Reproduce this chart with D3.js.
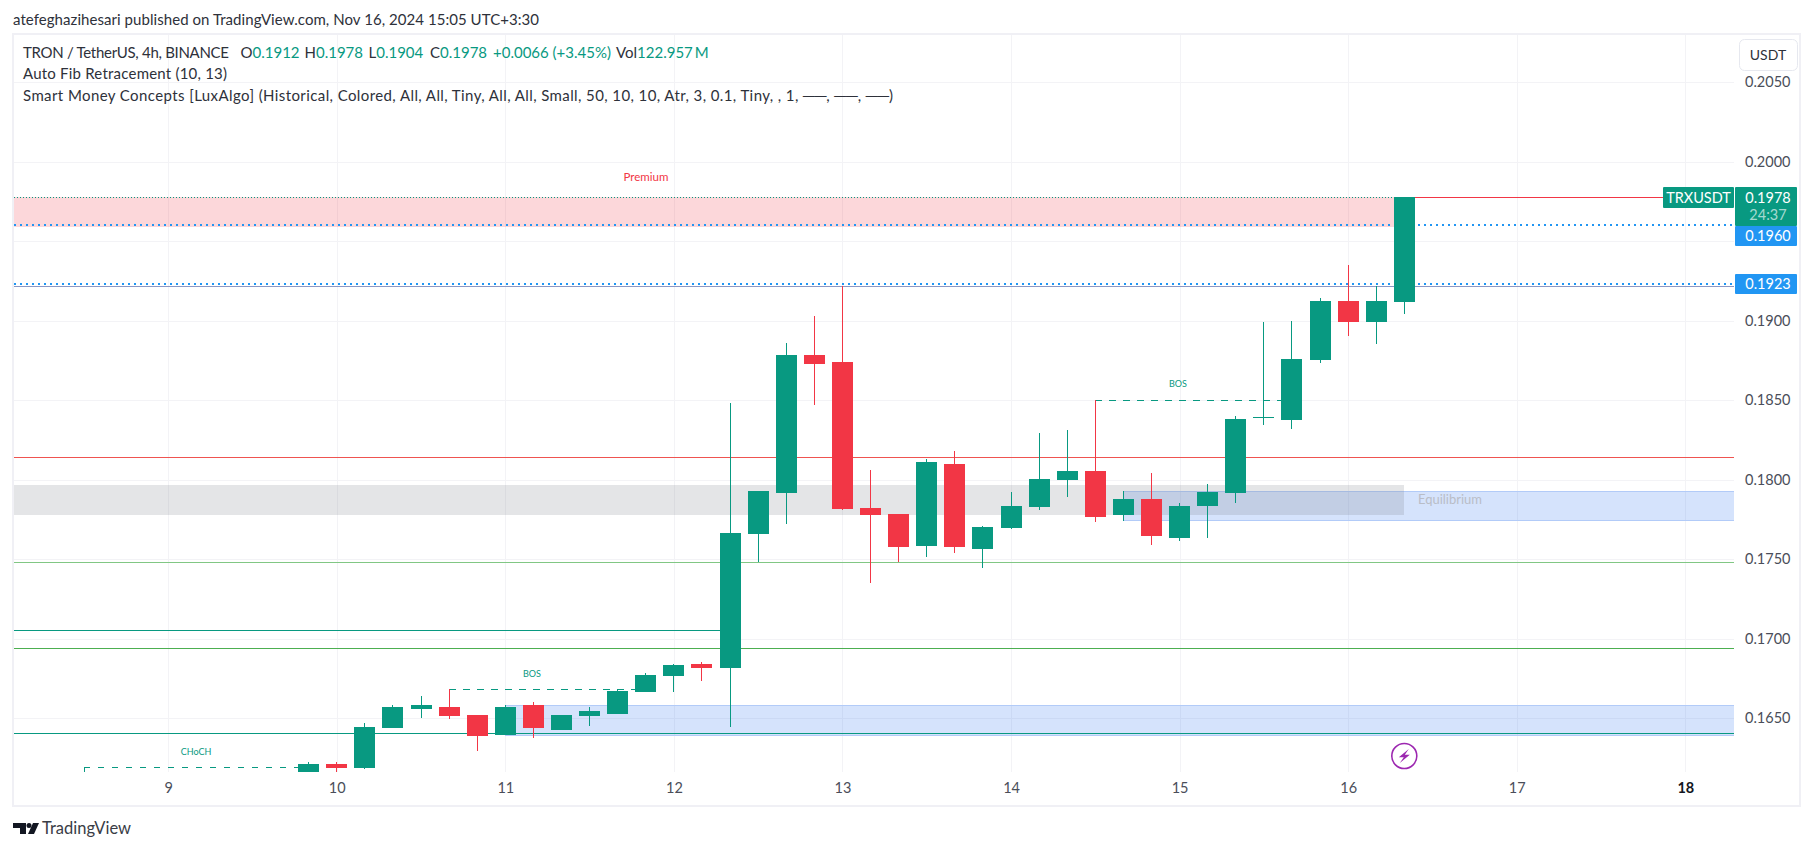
<!DOCTYPE html>
<html lang="en">
<head>
  <meta charset="utf-8" />
  <title>TRXUSDT 4h</title>
  <style>
    html, body { margin: 0; padding: 0; background: #fff; overflow: hidden; }
    svg { display: block; font-family: Lato, sans-serif; }
    .axis text { font-size: 14.5px; fill: #4a4e59; font-family: Lato, sans-serif; }
    .axis path, .axis line { display: none; }
    .legend { font-size: 15px; fill: #2e313a; }
    .up { fill: #089981; }
  </style>
</head>
<body>
  <svg id="chart" width="1814" height="851"></svg>

  <script src="https://d3js.org/d3.v7.min.js"></script>
  <script>
    // 4h candles, first one is at day 9 + 5/6
    const firstCandle = 9 + 5 / 6;
    const opens = [0.16162, 0.16213, 0.16188, 0.16439, 0.16559, 0.16571, 0.16521, 0.16395, 0.16584, 0.16427,
      0.16515, 0.16527, 0.16666, 0.16766, 0.16842, 0.16817, 0.17659, 0.17917, 0.18785, 0.18741,
      0.17823, 0.17785, 0.17584, 0.18100, 0.17565, 0.17697, 0.17829, 0.17999, 0.18056, 0.17779,
      0.17879, 0.17634, 0.17835, 0.17917, 0.18390, 0.18376, 0.18754, 0.19125, 0.18993, 0.1912];
    const highs = [0.16225, 0.16225, 0.16471, 0.16584, 0.16640, 0.16684, 0.16521, 0.16584, 0.16603, 0.16521,
      0.16571, 0.16678, 0.16785, 0.16842, 0.16854, 0.18483, 0.17930, 0.18861, 0.19030, 0.19219,
      0.18062, 0.17785, 0.18131, 0.18181, 0.17710, 0.17923, 0.18295, 0.18313, 0.18500, 0.17930,
      0.18043, 0.17854, 0.17974, 0.18401, 0.18993, 0.18999, 0.19144, 0.19351, 0.19219, 0.1978];
    const lows = [0.16150, 0.16160, 0.16181, 0.16439, 0.16502, 0.16496, 0.16295, 0.16395, 0.16376, 0.16427,
      0.16452, 0.16527, 0.16666, 0.16666, 0.16735, 0.16445, 0.17483, 0.17722, 0.18471, 0.17810,
      0.17351, 0.17483, 0.17515, 0.17540, 0.17446, 0.17691, 0.17810, 0.17892, 0.17735, 0.17741,
      0.17590, 0.17615, 0.17634, 0.17854, 0.18345, 0.18320, 0.18735, 0.18905, 0.18854, 0.1904];
    const closes = [0.16213, 0.16188, 0.16445, 0.16571, 0.16584, 0.16515, 0.16389, 0.16571, 0.16439, 0.16521,
      0.16546, 0.16672, 0.16773, 0.16835, 0.16817, 0.17666, 0.17930, 0.18785, 0.18729, 0.17817,
      0.17779, 0.17578, 0.18112, 0.17578, 0.17703, 0.17835, 0.18005, 0.18056, 0.17766, 0.17879,
      0.17647, 0.17835, 0.17923, 0.18383, 0.18395, 0.18760, 0.19125, 0.18993, 0.19125, 0.1978];

    const dayTicks = [9, 10, 11, 12, 13, 14, 15, 16, 17, 18];
    const priceTicks = [0.165, 0.17, 0.175, 0.18, 0.185, 0.19, 0.195, 0.2, 0.205];

    // zones: price bottom, price top, start day, end day (null = pane edge)
    const zoneBottoms = [0.19592, 0.17779, 0.17745, 0.16395];
    const zoneTops = [0.1978, 0.17967, 0.1793, 0.16584];
    const zoneStarts = [null, null, 14.667, 11];
    const zoneEnds = [16.333, 16.333, null, null];
    const zoneKinds = ["premium", "equil", "block", "block"];

    // solid levels
    const levelPrices = [0.19217, 0.18142, 0.17481, 0.17053, 0.1694, 0.16406];
    const levelEnds = [null, null, null, 12.333, null, null];
    const levelColors = ["#8a97c4", "#ef5350", "#81c784", "#089981", "#4caf50", "#089981"];

    const dottedPrices = [0.196, 0.1923];
    const structNames = ["CHoCH", "BOS", "BOS"];
    const structPrices = [0.16195, 0.16684, 0.185];
    const structStarts = [8.5, 10.667, 14.5];
    const structEnds = [9.77, 11.77, 15.6];

    const lastPrice = 0.1978;
    const symbol = "TRXUSDT";
    const countdown = "24:37";

    const pane = { left: 14, right: 1734, top: 35, bottom: 772 };
    const green = "#089981", red = "#f23645", grid = "#f3f3f6";

    const svg = d3.select("#chart");
    const x = d3.scaleLinear().domain([9, 18]).range([168.2, 1685.3]);
    const y = d3.scaleLinear().domain([0.165, 0.205]).range([718.3, 82.3]);
    const px = v => Math.round(v);

    // frame
    svg.append("rect")
      .attr("x", 13).attr("y", 34).attr("width", 1787).attr("height", 772)
      .attr("fill", "none").attr("stroke", "#f0f0f5").attr("stroke-width", 2);

    svg.append("defs").append("clipPath").attr("id", "pane-clip").append("rect")
      .attr("x", pane.left).attr("y", pane.top)
      .attr("width", pane.right - pane.left).attr("height", pane.bottom - pane.top);

    const plot = svg.append("g").attr("clip-path", "url(#pane-clip)").attr("shape-rendering", "crispEdges");

    // grid
    plot.selectAll(".vgrid").data(dayTicks).join("rect")
      .attr("x", d => px(x(d))).attr("y", pane.top).attr("width", 1).attr("height", pane.bottom - pane.top)
      .attr("fill", grid);
    plot.selectAll(".hgrid").data(priceTicks).join("rect")
      .attr("x", pane.left).attr("y", d => px(y(d))).attr("width", pane.right - pane.left).attr("height", 1)
      .attr("fill", grid);

    // zones
    const zoneFill = { premium: "rgba(242,54,69,0.2)", equil: "rgba(120,123,134,0.2)", block: "rgba(45,115,240,0.2)" };
    const zones = zoneKinds.map((k, i) => ({ k, i })).sort((a, b) => (a.k === "block" ? 0 : 1) - (b.k === "block" ? 0 : 1));
    zones.forEach(({ k, i }) => {
      const x0 = zoneStarts[i] === null ? pane.left : x(zoneStarts[i]);
      const x1 = zoneEnds[i] === null ? pane.right : x(zoneEnds[i]);
      plot.append("rect")
        .attr("x", px(x0)).attr("y", px(y(zoneTops[i])))
        .attr("width", px(x1) - px(x0)).attr("height", px(y(zoneBottoms[i])) - px(y(zoneTops[i])))
        .attr("fill", zoneFill[k]);
      if (k === "block") {
        [zoneTops[i], zoneBottoms[i]].forEach(p => {
          plot.append("rect")
            .attr("x", px(x0)).attr("y", px(y(p))).attr("width", px(x1) - px(x0)).attr("height", 1)
            .attr("fill", "#b2cbf8");
        });
      }
    });

    // levels
    plot.selectAll(".level").data(levelPrices).join("rect")
      .attr("x", pane.left).attr("y", d => px(y(d)))
      .attr("width", (d, i) => (levelEnds[i] === null ? pane.right : x(levelEnds[i])) - pane.left)
      .attr("height", 1)
      .attr("fill", (d, i) => levelColors[i]);

    // premium edge: dotted up to the last candle, red from there on
    plot.append("line")
      .attr("x1", pane.left).attr("x2", x(16.333))
      .attr("y1", px(y(lastPrice)) + 0.5).attr("y2", px(y(lastPrice)) + 0.5)
      .attr("stroke", green).attr("stroke-dasharray", "1 2");
    plot.append("rect")
      .attr("x", px(x(16.333))).attr("y", px(y(lastPrice))).attr("width", pane.right - px(x(16.333))).attr("height", 1)
      .attr("fill", red);

    plot.selectAll(".dotted").data(dottedPrices).join("line")
      .attr("x1", pane.left).attr("x2", pane.right)
      .attr("y1", d => y(d)).attr("y2", d => y(d))
      .attr("stroke", "#2196f3").attr("stroke-width", 2).attr("stroke-dasharray", "2 4");

    // structure breaks
    structNames.forEach((name, i) => {
      const sy = px(y(structPrices[i])) + 0.5;
      plot.append("line")
        .attr("x1", x(structStarts[i])).attr("x2", x(structEnds[i]))
        .attr("y1", sy).attr("y2", sy)
        .attr("stroke", green).attr("stroke-dasharray", "6.5 7.5");
      plot.append("rect")
        .attr("x", px(x(structStarts[i]))).attr("y", sy).attr("width", 1).attr("height", 6)
        .attr("fill", i === 0 ? green : red);
    });

    // candles
    const candles = opens.map((o, i) => ({ t: firstCandle + i / 6, o, h: highs[i], l: lows[i], c: closes[i] }));
    const candle = plot.selectAll(".candle").data(candles).join("g")
      .attr("fill", d => d.c >= d.o ? green : red);
    candle.append("rect")
      .attr("x", d => Math.round(x(d.t) - 10.5) + 10).attr("width", 1)
      .attr("y", d => px(y(d.h))).attr("height", d => Math.max(1, px(y(d.l)) - px(y(d.h))));
    candle.append("rect")
      .attr("x", d => Math.round(x(d.t) - 10.5)).attr("width", 21)
      .attr("y", d => px(y(Math.max(d.o, d.c))))
      .attr("height", d => Math.max(1, px(y(Math.min(d.o, d.c))) - px(y(Math.max(d.o, d.c)))));

    // small chart labels
    const small = svg.append("g").attr("text-anchor", "middle");
    small.append("text").attr("x", 646).attr("y", 181).attr("font-size", 11.5).attr("fill", red).text("Premium");
    small.append("text").attr("x", 1450).attr("y", 504).attr("font-size", 13).attr("fill", "#b9bdc7").text("Equilibrium");
    const structLabelX = [196, 532, 1178], structLabelY = [755, 677, 387];
    structNames.forEach((name, i) => {
      small.append("text").attr("x", structLabelX[i]).attr("y", structLabelY[i])
        .attr("font-size", 9).attr("fill", green).text(name);
    });

    // bolt marker on the last candle
    const bolt = svg.append("g").attr("transform", `translate(${x(16.333)},756)`);
    bolt.append("circle").attr("r", 12.5).attr("fill", "#fff").attr("stroke", "#9c27b0").attr("stroke-width", 1.6);
    bolt.append("path").attr("d", "M4.5,-7 L-5.5,1.2 L-0.5,1.2 L-4.5,7 L5.5,-1.2 L0.5,-1.2 Z").attr("fill", "#9c27b0");

    // axes
    svg.append("g").attr("class", "axis").attr("transform", "translate(0,772)")
      .call(d3.axisBottom(x).tickValues(dayTicks).tickSize(0).tickPadding(11).tickFormat(d3.format("d")))
      .call(g => g.selectAll(".tick text").filter(d => d === 18).attr("font-weight", "bold").style("fill", "#131722"));
    svg.append("g").attr("class", "axis").attr("transform", "translate(1745,0)")
      .call(d3.axisRight(y).tickValues(priceTicks).tickSize(0).tickPadding(0).tickFormat(d3.format(".4f")));

    // price labels
    const labels = svg.append("g").attr("text-anchor", "middle").attr("font-size", 14.5);
    labels.append("rect").attr("x", 1663).attr("y", 187).attr("width", 71).attr("height", 21).attr("rx", 1).attr("fill", green);
    labels.append("text").attr("x", 1698.5).attr("y", 202.5).attr("fill", "#fff").text(symbol);
    labels.append("rect").attr("x", 1735).attr("y", 187).attr("width", 62).attr("height", 39).attr("rx", 1).attr("fill", green);
    labels.append("text").attr("x", 1768).attr("y", 202.5).attr("fill", "#fff").text(d3.format(".4f")(lastPrice));
    labels.append("text").attr("x", 1768).attr("y", 220).attr("fill", "#fff").attr("fill-opacity", 0.65).text(countdown);
    dottedPrices.forEach((p, i) => {
      const top = i === 0 ? 226 : 274;
      labels.append("rect").attr("x", 1735).attr("y", top).attr("width", 62).attr("height", 20).attr("rx", 1).attr("fill", "#2196f3");
      labels.append("text").attr("x", 1768).attr("y", top + 15).attr("fill", "#fff").text(d3.format(".4f")(p));
    });

    // currency button
    svg.append("rect").attr("x", 1739.5).attr("y", 39.5).attr("width", 58).attr("height", 31).attr("rx", 5)
      .attr("fill", "#fff").attr("stroke", "#e6e8ef");
    svg.append("text").attr("x", 1768).attr("y", 60).attr("text-anchor", "middle").attr("font-size", 14).attr("fill", "#2e313a").text("USDT");

    // header text, stretched to the widths measured on the reference
    const headerLine = (txt, lx, ly, len) => svg.append("text").attr("class", "legend")
      .attr("x", lx).attr("y", ly).attr("textLength", len).attr("lengthAdjust", "spacing").text(txt);
    headerLine("atefeghazihesari published on TradingView.com, Nov 16, 2024 15:05 UTC+3:30", 13, 25, 526);
    headerLine("TRON / TetherUS, 4h, BINANCE", 23, 58, 206);
    const ohlcNames = ["O", "H", "L", "C"], ohlcValues = [0.1912, 0.1978, 0.1904, 0.1978], ohlcX = [240.5, 304.5, 368.5, 430];
    ohlcNames.forEach((n, i) => {
      const t = svg.append("text").attr("class", "legend").attr("x", ohlcX[i]).attr("y", 58);
      t.append("tspan").text(n);
      t.append("tspan").attr("class", "up").text(d3.format(".4f")(ohlcValues[i]));
    });
    svg.append("text").attr("class", "legend up").attr("x", 493).attr("y", 58).text("+0.0066 (+3.45%)");
    const vol = svg.append("text").attr("class", "legend").attr("x", 616).attr("y", 58);
    vol.append("tspan").text("Vol");
    vol.append("tspan").attr("class", "up").text("122.957\u2009M");
    headerLine("Auto Fib Retracement (10, 13)", 23, 79, 204);
    headerLine("Smart Money Concepts [LuxAlgo] (Historical, Colored, All, All, Tiny, All, All, Small, 50, 10, 10, Atr, 3, 0.1, Tiny, , 1, ──, ──, ──)", 23, 101, 870);

    // footer logo
    const logo = svg.append("g").attr("fill", "#131722");
    logo.append("path").attr("d", "M13,823 H26 V834 H20 V828 H13 Z");
    logo.append("circle").attr("cx", 29).attr("cy", 825.5).attr("r", 2.5);
    logo.append("path").attr("d", "M33,823 H39 L34,834 H28 Z");
    svg.append("text").attr("x", 42).attr("y", 834).attr("font-size", 16.5).attr("fill", "#3a3d46").text("TradingView");
  </script>
</body>
</html>
